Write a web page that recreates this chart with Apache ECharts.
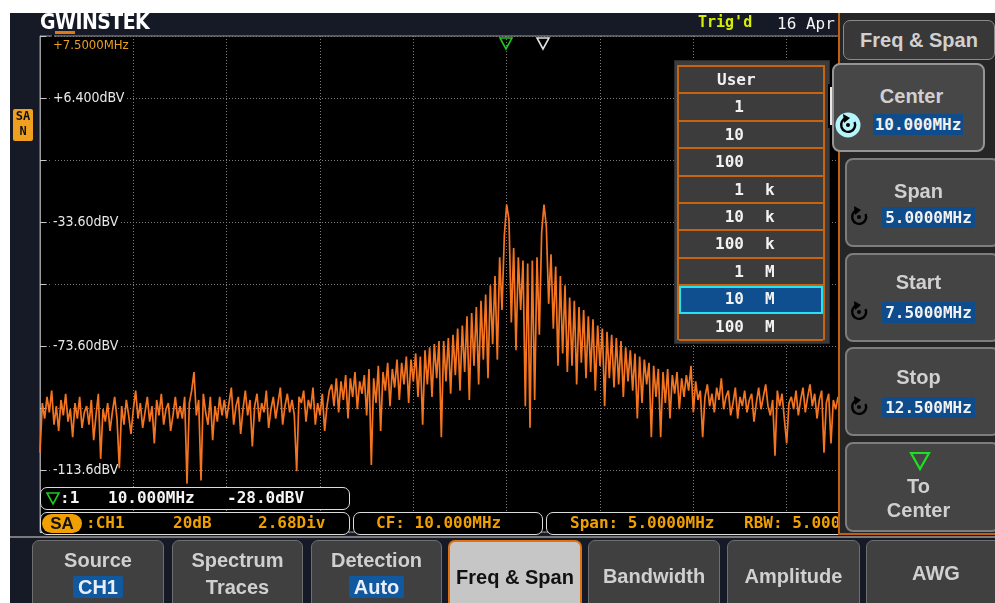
<!DOCTYPE html>
<html>
<head>
<meta charset="utf-8">
<script src="https://cdn.jsdelivr.net/npm/echarts@6/dist/echarts.min.js"></script>
<style>
  html, body { margin:0; padding:0; width:995px; height:603px; overflow:hidden; background:#fff; }
  .abs { position:absolute; }
  #screen { position:absolute; left:10px; top:13px; width:985px; height:590px; background:#151a26; z-index:0; }
  #chart { position:absolute; left:0; top:0; width:995px; height:603px; z-index:1; }
  #ov { position:absolute; left:0; top:0; width:995px; height:603px; z-index:2; }
  .mono { font-family:'DejaVu Sans Mono', 'Liberation Mono', monospace; font-weight:bold; font-size:16px; white-space:pre; }
  .sans { font-family:'Liberation Sans', Arial, sans-serif; font-weight:bold; font-size:20px; white-space:pre; }
  .narrow { font-family:'Liberation Sans Narrow', 'DejaVu Sans Condensed', sans-serif; font-size:14px; white-space:pre; }
  .orange { color:#f0a000; }
  .box { position:absolute; box-sizing:border-box; background:#000; border:1.5px solid #dcdcdc; border-radius:7px; }
  .bbtn { position:absolute; top:540px; height:70px; box-sizing:border-box; background:#404040; border:1.5px solid #6e6e6e; border-radius:7px 7px 0 0; }
  .bbtn .t { position:absolute; left:0; width:100%; text-align:center; color:#d0d0d0; }
  .hl { background:#1058a0; color:#e8eef8; padding:0 5px; border-radius:2px; }
  .mbtn { position:absolute; box-sizing:border-box; background:#444; border:2px solid #7d7d7d; border-radius:8px; height:89px; }
  .mt { position:absolute; width:100%; text-align:center; color:#d0d0d0; left:0; }
  .mv { position:absolute; height:21px; line-height:21px; background:#0f4c8c; color:#f2f2f2; }
  .row { position:absolute; left:0; width:100%; box-sizing:border-box; height:27.4px; border-bottom:2px solid #c8640f; color:#f2f2f2; }
  .row .n { position:absolute; right:79px; top:3px; }
  .row .u { position:absolute; left:86px; top:3px; }
</style>
</head>
<body>
<div id="screen"></div>
<div id="chart"></div>
<div id="ov">
  <!-- header -->
  <div class="abs" style="left:40px;top:12px;height:20px;line-height:20px;font-family:'DejaVu Sans Condensed','DejaVu Sans',sans-serif;font-weight:bold;font-size:21px;color:#fff;letter-spacing:-0.5px;">G<span style="display:inline-block;height:17px;line-height:17px;overflow:visible;border-bottom:3px solid #e07818;">W</span>INSTEK</div>
  <div class="abs mono" style="left:698px;top:13px;font-size:15px;color:#d6ee00;">Trig'd</div>
  <div class="abs mono" style="left:777px;top:14px;color:#f4f4f4;font-weight:normal;">16 Apr</div>
  <div class="abs narrow" style="left:53px;top:37px;color:#e8a020;font-size:13px;">+7.5000MHz</div>
  <svg class="abs" style="left:0;top:0;" width="995" height="60">
    <polygon points="500,38 512,38 506,49" fill="none" stroke="#1ec81e" stroke-width="1.6"/>
    <polygon points="537,38 549,38 543,49" fill="none" stroke="#e0e0e0" stroke-width="1.6"/>
  </svg>
  <!-- SA N badge -->
  <div class="abs" style="left:13px;top:109px;width:20px;height:32px;background:#f0a020;border-radius:2px;text-align:center;font-family:'DejaVu Sans Mono',monospace;font-weight:bold;font-size:12px;line-height:15px;color:#111;">SA<br>N</div>

  <!-- status row 1 -->
  <div class="box" style="left:40px;top:487px;width:310px;height:23px;"></div>
  <svg class="abs" style="left:45px;top:491px;" width="16" height="14"><polygon points="2,2 14,2 8,13" fill="none" stroke="#1ec81e" stroke-width="1.6"/></svg>
  <div class="abs mono" style="left:60px;top:488px;color:#f4f4f4;">:1</div>
  <div class="abs mono" style="left:108px;top:488px;color:#f4f4f4;">10.000MHz</div>
  <div class="abs mono" style="left:227px;top:488px;color:#f4f4f4;">-28.0dBV</div>
  <!-- status row 2 -->
  <div class="box" style="left:40px;top:512px;width:310px;height:23px;"></div>
  <div class="box" style="left:353px;top:512px;width:190px;height:23px;"></div>
  <div class="box" style="left:546px;top:512px;width:310px;height:23px;"></div>
  <div class="abs" style="left:42px;top:514px;width:40px;height:19px;background:#f0a000;border-radius:10px;text-align:center;font-family:'Liberation Sans',sans-serif;font-weight:bold;font-size:17px;line-height:19px;color:#111;">SA</div>
  <div class="abs mono orange" style="left:86px;top:513px;">:CH1</div>
  <div class="abs mono orange" style="left:173px;top:513px;">20dB</div>
  <div class="abs mono orange" style="left:258px;top:513px;">2.68Div</div>
  <div class="abs mono orange" style="left:376px;top:513px;">CF: 10.000MHz</div>
  <div class="abs mono orange" style="left:570px;top:513px;">Span: 5.0000MHz</div>
  <div class="abs mono orange" style="left:744px;top:513px;">RBW: 5.0000kHz</div>
  <div class="abs" style="left:10px;top:536px;width:985px;height:2px;background:#7a7a7a;"></div>

  <!-- bottom buttons -->
  <div class="bbtn" style="left:32px;width:132px;"><div class="t sans" style="top:8px;">Source</div><div class="t sans" style="top:35px;"><span class="hl">CH1</span></div></div>
  <div class="bbtn" style="left:172px;width:131px;"><div class="t sans" style="top:8px;">Spectrum</div><div class="t sans" style="top:35px;">Traces</div></div>
  <div class="bbtn" style="left:311px;width:131px;"><div class="t sans" style="top:8px;">Detection</div><div class="t sans" style="top:35px;"><span class="hl">Auto</span></div></div>
  <div class="bbtn" style="left:448px;width:134px;background:#c6c6c6;border:2px solid #e07010;border-bottom:none;"><div class="t sans" style="top:24px;color:#111;">Freq &amp; Span</div></div>
  <div class="bbtn" style="left:588px;width:132px;"><div class="t sans" style="top:24px;">Bandwidth</div></div>
  <div class="bbtn" style="left:727px;width:133px;"><div class="t sans" style="top:24px;">Amplitude</div></div>
  <div class="bbtn" style="left:866px;width:140px;"><div class="t sans" style="top:21px;">AWG</div></div>

  <!-- popup list -->
  <div class="abs" style="left:674px;top:60px;width:156px;height:284px;background:#3c3c3c;border:1px solid #2a2a2a;box-sizing:border-box;"></div>
  <div class="abs mono" style="left:677px;top:65px;width:148px;height:275px;box-sizing:border-box;border:2px solid #c8640f;border-bottom:none;" id="list"></div>
  <div class="abs" style="left:828px;top:84px;width:6px;height:44px;background:#000;"><div style="position:absolute;left:2px;top:3px;width:2px;height:38px;background:#e8e8e8;"></div></div>

  <!-- right menu -->
  <div class="abs" style="left:838px;top:13px;width:157px;height:522px;background:#262626;border-left:2px solid #c06010;border-bottom:2px solid #c06010;box-sizing:border-box;"></div>
  <div class="abs" style="left:843px;top:20px;width:152px;height:40px;background:#383838;border:1.5px solid #8a8a8a;border-radius:7px;box-sizing:border-box;"><div class="mt sans" style="top:8px;">Freq &amp; Span</div></div>

  <div class="mbtn" style="left:832px;top:63px;width:153px;background:#474747;border-color:#959595;">
    <div class="mt sans" style="top:20px;left:3px;">Center</div>
  </div>
  <div class="mv mono" style="left:873px;top:114px;width:90px;text-align:center;">10.000MHz</div>
  <svg class="abs" style="left:835px;top:112px;" width="26" height="26" viewBox="-13 -13 26 26">
    <circle r="12.5" fill="#b4f4fa"/>
    <path d="M 6.5 -3 A 7 7 0 1 1 -2 -6.8" fill="none" stroke="#000" stroke-width="2.4"/>
    <polygon points="-5,-11 2,-7 -4,-2" fill="#000"/>
    <circle r="2" fill="#000"/>
  </svg>

  <div class="mbtn" style="left:845px;top:158px;width:155px;"><div class="mt sans" style="top:20px;left:-4px;">Span</div></div>
  <div class="mv mono" style="left:882px;top:207px;width:93px;text-align:center;">5.0000MHz</div>
  <div class="mbtn" style="left:845px;top:253px;width:155px;"><div class="mt sans" style="top:16px;left:-4px;">Start</div></div>
  <div class="mv mono" style="left:882px;top:302px;width:93px;text-align:center;">7.5000MHz</div>
  <div class="mbtn" style="left:845px;top:347px;width:155px;"><div class="mt sans" style="top:17px;left:-4px;">Stop</div></div>
  <div class="mv mono" style="left:882px;top:397px;width:93px;text-align:center;">12.500MHz</div>
  <div class="mbtn" style="left:845px;top:442px;width:155px;height:90px;">
    <div class="mt sans" style="top:31px;left:-4px;">To</div>
    <div class="mt sans" style="top:55px;left:-4px;">Center</div>
  </div>
  <svg class="abs" style="left:908px;top:450px;" width="24" height="22"><polygon points="3,3 21,3 12,19" fill="none" stroke="#1ee01e" stroke-width="2.2"/></svg>
  <div id="knobs"></div>
</div>

<script>
// ---- data ----
const freqStartMHz = 7.5;      // left edge of the display
const freqStepMHz = 0.0125;    // spacing of the trace samples
const freqEndMHz = 12.5;
const freqTickMHz = 0.5;
const yTopDbv = 26.4;
const yBottomDbv = -133.6;
const yDivDb = 20;
const yLabelValues = [6.4, -33.6, -73.6, -113.6];
const yLabelTexts = ['+6.400dBV', '-33.60dBV', '-73.60dBV', '-113.6dBV'];
const stepListNumbers = ['User', '1', '10', '100', '1', '10', '100', '1', '10', '100'];
const stepListUnits = ['', '', '', '', 'k', 'k', 'k', 'M', 'M', 'M'];
const stepListSelected = 8;

// spectrum trace, dBV, one value per sample from 7.5 MHz
const levelsDbv = [
  -108,-92,-97,-90,-95,-88,-99,-93,-101,-91,-96,-89,-98,-94,-103,-92,-97,-90,-100,-95,
  -93,-99,-91,-104,-96,-89,-110,-94,-98,-92,-101,-95,-90,-97,-113,-93,-99,-91,-96,-102,
  -94,-88,-97,-92,-100,-95,-90,-98,-93,-105,-91,-96,-89,-99,-94,-92,-101,-96,-90,-97,
  -93,-97,-90,-118,-92,-88,-82,-96,-91,-117,-89,-95,-99,-90,-104,-93,-98,-90,-96,-91,
  -97,-92,-87,-99,-93,-90,-102,-94,-88,-96,-91,-106,-93,-89,-98,-92,-95,-88,-100,-94,
  -90,-97,-92,-87,-99,-93,-89,-95,-91,-96,-114,-90,-92,-88,-98,-91,-94,-87,-99,-92,-96,-89,-101,-93,-88,
  -86,-93,-84,-95,-85,-91,-83,-97,-84,-90,-82,-94,-85,-89,-83,-96,-81,-112,-84,-92,
  -80,-101,-82,-88,-79,-93,-81,-87,-78,-91,-79,-86,-77,-92,-78,-85,-76,-90,-77,-99,
  -75,-86,-74,-90,-73,-84,-72,-103,-72,-85,-71,-89,-70,-83,-68,-88,-67,-82,-64,-91,
  -63,-80,-61,-86,-59,-78,-57,-84,-54,-73,-51,-78,-45,-62,-38,
  -28,
  -33,-66,-42,-75,-45,-62,-46,-93,-47,-100,-46,-91,-45,-70,-37,
  -28,
  -35,-60,-44,-68,-48,-80,-51,-76,-54,-82,
  -58,-80,-59,-86,-61,-79,-62,-84,-64,-82,-65,-88,-67,-80,-68,-93,-69,-84,-70,-87,
  -71,-86,-72,-90,-74,-85,-75,-88,-76,-97,-77,-92,-78,-86,-79,-103,-80,-90,-81,-103,
  -82,-92,-81,-97,-83,-89,-82,-94,-84,-90,-83,-88,-80,-95,-85,-91,
  -88,-103,-90,-86,-93,-89,-95,-87,-91,-84,-94,-90,-88,-96,-92,-87,-97,-90,-93,-88,
  -95,-91,-89,-98,-92,-87,-94,-90,-86,-93,-96,-91,-109,-88,-93,-89,-97,-105,-92,-90,
  -94,-88,-96,-91,-87,-95,-90,-86,-93,-89,-97,-91,-88,-108,-92,-89,-105,-91,-94,-90
];

// ---- step list ----
const list = document.getElementById('list');
stepListNumbers.forEach((n, k) => {
  const r = document.createElement('div');
  r.className = 'row';
  r.style.top = (k * 27.4) + 'px';
  if (k === stepListSelected) {
    r.style.background = '#0f4f8f';
    r.style.outline = '2px solid #22e4f4';
    r.style.outlineOffset = '-2px';
  }
  if (stepListUnits[k] === '' && n === 'User') {
    r.innerHTML = '<span style="position:absolute;left:38px;top:3px;">' + n + '</span>';
  } else {
    r.innerHTML = '<span class="n">' + n + '</span><span class="u">' + stepListUnits[k] + '</span>';
  }
  list.appendChild(r);
});

// knob icons for Span/Start/Stop
const knobs = document.getElementById('knobs');
[205, 300, 395].forEach(t => {
  knobs.insertAdjacentHTML('beforeend',
    '<svg class="abs" style="left:847px;top:' + t + 'px;" width="24" height="24" viewBox="-12 -12 24 24">' +
    '<path d="M 6.5 -3 A 7 7 0 1 1 -2 -6.8" fill="none" stroke="#000" stroke-width="2.4"/>' +
    '<polygon points="-5,-11 2,-7 -4,-2" fill="#000"/><circle r="2" fill="#000"/></svg>');
});

// ---- chart ----
const traceData = levelsDbv.map((v, i) => [freqStartMHz + i * freqStepMHz, v]);
const chart = echarts.init(document.getElementById('chart'), null, { renderer: 'canvas' });
const gridLine = { show: true, lineStyle: { color: '#7c7c7c', width: 1, type: [1, 2] } };
chart.setOption({
  animation: false,
  backgroundColor: 'transparent',
  grid: { left: 40, top: 36, width: 933.33, height: 496, show: true, backgroundColor: '#000', borderColor: '#9a9a9a', borderWidth: 1, containLabel: false },
  xAxis: {
    type: 'value', min: freqStartMHz, max: freqEndMHz, interval: freqTickMHz,
    axisLine: { show: false }, axisTick: { show: false }, axisLabel: { show: false },
    splitLine: gridLine
  },
  yAxis: {
    type: 'value', min: yBottomDbv, max: yTopDbv, interval: yDivDb,
    axisLine: { show: true, lineStyle: { color: '#9a9a9a' } },
    axisTick: { show: true, inside: true, length: 6, lineStyle: { color: '#c8c8c8' } },
    axisLabel: {
      inside: true, margin: 12, color: '#e8e8e8',
      fontFamily: "'Liberation Sans Narrow', 'DejaVu Sans Condensed', sans-serif", fontSize: 14,
      backgroundColor: '#000', padding: [1, 1],
      formatter: v => {
        const k = yLabelValues.findIndex(a => Math.abs(a - v) < 0.01);
        return k >= 0 ? yLabelTexts[k] : '';
      }
    },
    splitLine: gridLine
  },
  series: [{
    type: 'line', data: traceData, showSymbol: false, clip: true,
    lineStyle: { color: '#f57420', width: 1.7 }, itemStyle: { color: '#f57420' }
  }]
});
</script>
</body>
</html>
